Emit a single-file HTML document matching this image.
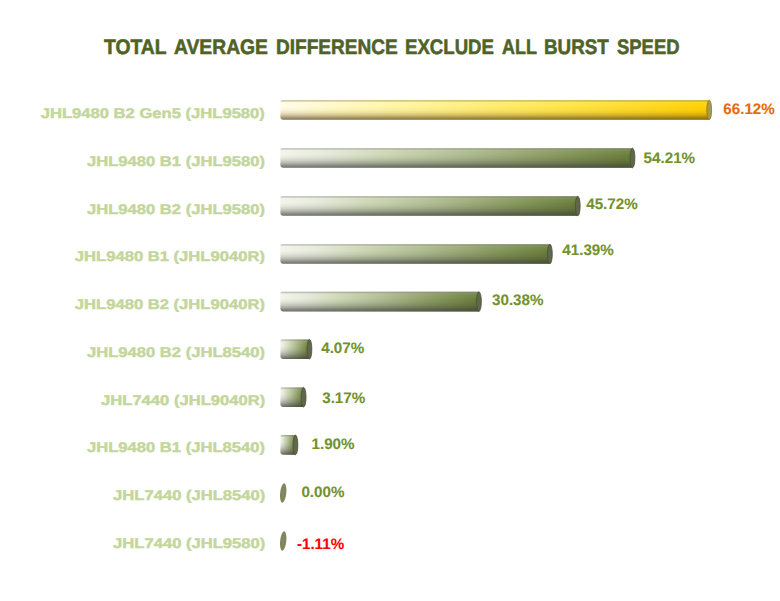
<!DOCTYPE html>
<html><head><meta charset="utf-8"><style>
html,body{margin:0;padding:0;background:#fff;width:780px;height:601px;overflow:hidden;position:relative}
body{font-family:"Liberation Sans",sans-serif;text-rendering:geometricPrecision}
.tw{position:absolute;top:35.9px;transform-origin:left top;font-weight:bold;color:#4f6228;-webkit-text-stroke:0.55px #4f6228;font-size:21px;white-space:nowrap}
.lab{position:absolute;right:515px;height:0;font-weight:bold;color:#c3d69b;font-size:16.5px;white-space:nowrap;line-height:0;-webkit-text-stroke:0.5px #c3d69b;transform:scaleY(0.85);transform-origin:right bottom}
.val{position:absolute;height:0;font-weight:bold;font-size:15.2px;white-space:nowrap;line-height:0;-webkit-text-stroke:0.1px currentColor;transform:scaleY(1.0);transform-origin:left bottom}
svg{position:absolute;left:0;top:0}
</style></head><body>
<svg width="780" height="601" viewBox="0 0 780 601">
<defs>
<linearGradient id="hg" x1="0" y1="0" x2="1" y2="0">
<stop offset="0" stop-color="#f3f4ea"/><stop offset="0.12" stop-color="#e6eadc"/><stop offset="0.3" stop-color="#ccd6b4"/><stop offset="0.5" stop-color="#b0be94"/><stop offset="0.75" stop-color="#8c9c64"/><stop offset="1" stop-color="#687d38"/>
</linearGradient>
<linearGradient id="hy" x1="0" y1="0" x2="1" y2="0">
<stop offset="0" stop-color="#fffce8"/><stop offset="0.12" stop-color="#fffac8"/><stop offset="0.3" stop-color="#fff49c"/><stop offset="0.65" stop-color="#ffe54a"/><stop offset="1" stop-color="#ffd000"/>
</linearGradient>
<linearGradient id="vs" x1="0" y1="0" x2="0" y2="1">
<stop offset="0" stop-color="#8a8a80" stop-opacity="0.6"/>
<stop offset="0.06" stop-color="#909088" stop-opacity="0.35"/>
<stop offset="0.13" stop-color="#fff" stop-opacity="0.08"/>
<stop offset="0.4" stop-color="#fff" stop-opacity="0"/>
</linearGradient>
<linearGradient id="vm" x1="0" y1="0" x2="0" y2="1">
<stop offset="0" stop-color="#3a3a36" stop-opacity="0"/>
<stop offset="0.35" stop-color="#3a3a36" stop-opacity="0"/>
<stop offset="0.5" stop-color="#3a3a36" stop-opacity="0.07"/>
<stop offset="0.62" stop-color="#3a3a36" stop-opacity="0.17"/>
<stop offset="0.75" stop-color="#3a3a36" stop-opacity="0.32"/>
<stop offset="0.87" stop-color="#3a3a36" stop-opacity="0.52"/>
<stop offset="1" stop-color="#3a3a36" stop-opacity="0.72"/>
</linearGradient>
<linearGradient id="vmy" x1="0" y1="0" x2="0" y2="1">
<stop offset="0" stop-color="#6a4800" stop-opacity="0"/>
<stop offset="0.35" stop-color="#6a4800" stop-opacity="0"/>
<stop offset="0.5" stop-color="#a07820" stop-opacity="0.06"/>
<stop offset="0.62" stop-color="#906818" stop-opacity="0.15"/>
<stop offset="0.75" stop-color="#705018" stop-opacity="0.3"/>
<stop offset="0.87" stop-color="#584018" stop-opacity="0.5"/>
<stop offset="1" stop-color="#4a3810" stop-opacity="0.7"/>
</linearGradient>
<linearGradient id="vsy" x1="0" y1="0" x2="0" y2="1">
<stop offset="0" stop-color="#8a7a40" stop-opacity="0.6"/>
<stop offset="0.06" stop-color="#a09050" stop-opacity="0.35"/>
<stop offset="0.13" stop-color="#fff" stop-opacity="0.08"/>
<stop offset="0.4" stop-color="#fff" stop-opacity="0"/>
</linearGradient>
</defs>
<path d="M281.90,100.20 L709.21,100.20 L709.21,119.80 L283.40,119.80 Q280.40,119.80 280.40,116.80 L280.40,101.70 Q280.40,100.20 281.90,100.20 Z" fill="url(#hy)"/>
<path d="M281.90,100.20 L709.21,100.20 L709.21,119.80 L283.40,119.80 Q280.40,119.80 280.40,116.80 L280.40,101.70 Q280.40,100.20 281.90,100.20 Z" fill="url(#vmy)"/>
<path d="M281.90,100.20 L709.21,100.20 L709.21,119.80 L283.40,119.80 Q280.40,119.80 280.40,116.80 L280.40,101.70 Q280.40,100.20 281.90,100.20 Z" fill="url(#vsy)"/>
<ellipse cx="709.21" cy="110.00" rx="2.4" ry="9.80" fill="#a89a48" stroke="#8a7a30" stroke-width="0.8"/>
<path d="M281.90,148.20 L632.48,148.20 L632.48,167.80 L283.40,167.80 Q280.40,167.80 280.40,164.80 L280.40,149.70 Q280.40,148.20 281.90,148.20 Z" fill="url(#hg)"/>
<path d="M281.90,148.20 L632.48,148.20 L632.48,167.80 L283.40,167.80 Q280.40,167.80 280.40,164.80 L280.40,149.70 Q280.40,148.20 281.90,148.20 Z" fill="url(#vm)"/>
<path d="M281.90,148.20 L632.48,148.20 L632.48,167.80 L283.40,167.80 Q280.40,167.80 280.40,164.80 L280.40,149.70 Q280.40,148.20 281.90,148.20 Z" fill="url(#vs)"/>
<ellipse cx="632.48" cy="158.00" rx="2.4" ry="9.80" fill="#60674a" stroke="#4a5038" stroke-width="0.8"/>
<path d="M281.90,196.20 L577.77,196.20 L577.77,215.80 L283.40,215.80 Q280.40,215.80 280.40,212.80 L280.40,197.70 Q280.40,196.20 281.90,196.20 Z" fill="url(#hg)"/>
<path d="M281.90,196.20 L577.77,196.20 L577.77,215.80 L283.40,215.80 Q280.40,215.80 280.40,212.80 L280.40,197.70 Q280.40,196.20 281.90,196.20 Z" fill="url(#vm)"/>
<path d="M281.90,196.20 L577.77,196.20 L577.77,215.80 L283.40,215.80 Q280.40,215.80 280.40,212.80 L280.40,197.70 Q280.40,196.20 281.90,196.20 Z" fill="url(#vs)"/>
<ellipse cx="577.77" cy="206.00" rx="2.4" ry="9.80" fill="#60674a" stroke="#4a5038" stroke-width="0.8"/>
<path d="M281.90,244.20 L549.88,244.20 L549.88,263.80 L283.40,263.80 Q280.40,263.80 280.40,260.80 L280.40,245.70 Q280.40,244.20 281.90,244.20 Z" fill="url(#hg)"/>
<path d="M281.90,244.20 L549.88,244.20 L549.88,263.80 L283.40,263.80 Q280.40,263.80 280.40,260.80 L280.40,245.70 Q280.40,244.20 281.90,244.20 Z" fill="url(#vm)"/>
<path d="M281.90,244.20 L549.88,244.20 L549.88,263.80 L283.40,263.80 Q280.40,263.80 280.40,260.80 L280.40,245.70 Q280.40,244.20 281.90,244.20 Z" fill="url(#vs)"/>
<ellipse cx="549.88" cy="254.00" rx="2.4" ry="9.80" fill="#60674a" stroke="#4a5038" stroke-width="0.8"/>
<path d="M281.90,291.80 L478.94,291.80 L478.94,311.40 L283.40,311.40 Q280.40,311.40 280.40,308.40 L280.40,293.30 Q280.40,291.80 281.90,291.80 Z" fill="url(#hg)"/>
<path d="M281.90,291.80 L478.94,291.80 L478.94,311.40 L283.40,311.40 Q280.40,311.40 280.40,308.40 L280.40,293.30 Q280.40,291.80 281.90,291.80 Z" fill="url(#vm)"/>
<path d="M281.90,291.80 L478.94,291.80 L478.94,311.40 L283.40,311.40 Q280.40,311.40 280.40,308.40 L280.40,293.30 Q280.40,291.80 281.90,291.80 Z" fill="url(#vs)"/>
<ellipse cx="478.94" cy="301.60" rx="2.4" ry="9.80" fill="#60674a" stroke="#4a5038" stroke-width="0.8"/>
<path d="M281.90,339.40 L309.42,339.40 L309.42,359.00 L283.40,359.00 Q280.40,359.00 280.40,356.00 L280.40,340.90 Q280.40,339.40 281.90,339.40 Z" fill="url(#hg)"/>
<path d="M281.90,339.40 L309.42,339.40 L309.42,359.00 L283.40,359.00 Q280.40,359.00 280.40,356.00 L280.40,340.90 Q280.40,339.40 281.90,339.40 Z" fill="url(#vm)"/>
<path d="M281.90,339.40 L309.42,339.40 L309.42,359.00 L283.40,359.00 Q280.40,359.00 280.40,356.00 L280.40,340.90 Q280.40,339.40 281.90,339.40 Z" fill="url(#vs)"/>
<ellipse cx="309.42" cy="349.20" rx="2.4" ry="9.80" fill="#60674a" stroke="#4a5038" stroke-width="0.8"/>
<path d="M281.90,387.40 L303.62,387.40 L303.62,407.00 L283.40,407.00 Q280.40,407.00 280.40,404.00 L280.40,388.90 Q280.40,387.40 281.90,387.40 Z" fill="url(#hg)"/>
<path d="M281.90,387.40 L303.62,387.40 L303.62,407.00 L283.40,407.00 Q280.40,407.00 280.40,404.00 L280.40,388.90 Q280.40,387.40 281.90,387.40 Z" fill="url(#vm)"/>
<path d="M281.90,387.40 L303.62,387.40 L303.62,407.00 L283.40,407.00 Q280.40,407.00 280.40,404.00 L280.40,388.90 Q280.40,387.40 281.90,387.40 Z" fill="url(#vs)"/>
<ellipse cx="303.62" cy="397.20" rx="2.4" ry="9.80" fill="#60674a" stroke="#4a5038" stroke-width="0.8"/>
<path d="M281.90,435.10 L295.44,435.10 L295.44,454.70 L283.40,454.70 Q280.40,454.70 280.40,451.70 L280.40,436.60 Q280.40,435.10 281.90,435.10 Z" fill="url(#hg)"/>
<path d="M281.90,435.10 L295.44,435.10 L295.44,454.70 L283.40,454.70 Q280.40,454.70 280.40,451.70 L280.40,436.60 Q280.40,435.10 281.90,435.10 Z" fill="url(#vm)"/>
<path d="M281.90,435.10 L295.44,435.10 L295.44,454.70 L283.40,454.70 Q280.40,454.70 280.40,451.70 L280.40,436.60 Q280.40,435.10 281.90,435.10 Z" fill="url(#vs)"/>
<ellipse cx="295.44" cy="444.90" rx="2.4" ry="9.80" fill="#60674a" stroke="#4a5038" stroke-width="0.8"/>
<ellipse cx="283.20" cy="493.00" rx="3.1" ry="9.7" fill="#7f8660" transform="rotate(6 283.20 493.00)"/>
<ellipse cx="283.20" cy="541.00" rx="3.1" ry="9.7" fill="#7f8660" transform="rotate(6 283.20 541.00)"/>
</svg>
<div class="tw" style="left:104.17px;transform:scaleX(0.9185)">TOTAL</div>
<div class="tw" style="left:173.57px;transform:scaleX(0.9185)">AVERAGE</div>
<div class="tw" style="left:276.07px;transform:scaleX(0.9068)">DIFFERENCE</div>
<div class="tw" style="left:405.08px;transform:scaleX(0.8865)">EXCLUDE</div>
<div class="tw" style="left:502.08px;transform:scaleX(0.8531)">ALL</div>
<div class="tw" style="left:543.87px;transform:scaleX(0.8944)">BURST</div>
<div class="tw" style="left:616.57px;transform:scaleX(0.8780)">SPEED</div>
<div class="lab" style="top:0;transform:translateY(113.75px) scale(1.006,0.85)">JHL9480 B2 Gen5 (JHL9580)</div>
<div class="val" style="left:723.30px;top:0;transform:translateY(109.75px) scaleY(1.0);color:#e46c0a">66.12%</div>
<div class="lab" style="top:0;transform:translateY(161.53px) scale(1.006,0.85)">JHL9480 B1 (JHL9580)</div>
<div class="val" style="left:643.60px;top:0;transform:translateY(159.40px) scaleY(1.0);color:#72922c">54.21%</div>
<div class="lab" style="top:0;transform:translateY(209.31px) scale(1.006,0.85)">JHL9480 B2 (JHL9580)</div>
<div class="val" style="left:586.20px;top:0;transform:translateY(204.70px) scaleY(1.0);color:#72922c">45.72%</div>
<div class="lab" style="top:0;transform:translateY(257.09px) scale(1.006,0.85)">JHL9480 B1 (JHL9040R)</div>
<div class="val" style="left:562.30px;top:0;transform:translateY(250.75px) scaleY(1.0);color:#72922c">41.39%</div>
<div class="lab" style="top:0;transform:translateY(304.87px) scale(1.006,0.85)">JHL9480 B2 (JHL9040R)</div>
<div class="val" style="left:492.00px;top:0;transform:translateY(301.35px) scaleY(1.0);color:#72922c">30.38%</div>
<div class="lab" style="top:0;transform:translateY(352.65px) scale(1.006,0.85)">JHL9480 B2 (JHL8540)</div>
<div class="val" style="left:321.20px;top:0;transform:translateY(349.25px) scaleY(1.0);color:#72922c">4.07%</div>
<div class="lab" style="top:0;transform:translateY(400.43px) scale(1.006,0.85)">JHL7440 (JHL9040R)</div>
<div class="val" style="left:322.20px;top:0;transform:translateY(398.55px) scaleY(1.0);color:#72922c">3.17%</div>
<div class="lab" style="top:0;transform:translateY(448.21px) scale(1.006,0.85)">JHL9480 B1 (JHL8540)</div>
<div class="val" style="left:311.50px;top:0;transform:translateY(444.75px) scaleY(1.0);color:#72922c">1.90%</div>
<div class="lab" style="top:0;transform:translateY(495.99px) scale(1.006,0.85)">JHL7440 (JHL8540)</div>
<div class="val" style="left:301.40px;top:0;transform:translateY(493.35px) scaleY(1.0);color:#72922c">0.00%</div>
<div class="lab" style="top:0;transform:translateY(543.77px) scale(1.006,0.85)">JHL7440 (JHL9580)</div>
<div class="val" style="left:296.90px;top:0;transform:translateY(544.80px) scaleY(1.0);color:#ff0000">-1.11%</div>
</body></html>
